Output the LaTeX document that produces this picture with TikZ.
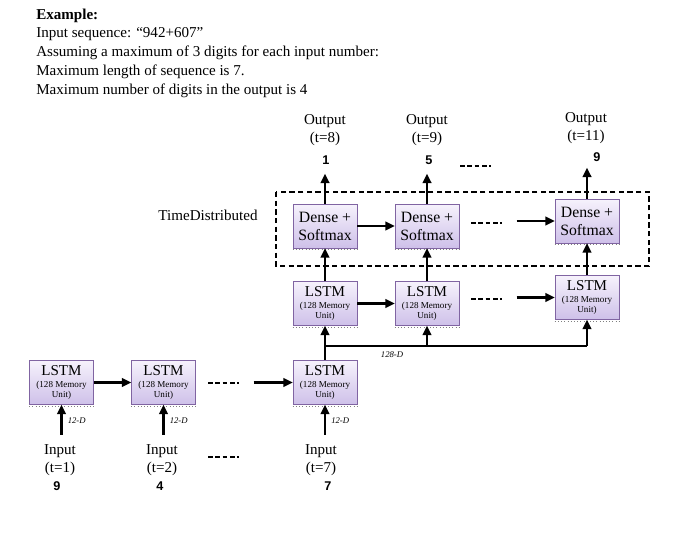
\documentclass[tikz,border=0pt]{standalone}
\usepackage{fontspec}
\setmainfont{Liberation Serif}
\newfontfamily\digitfont{Liberation Sans}
\definecolor{BoxTop}{RGB}{246,242,252}
\definecolor{BoxBottom}{RGB}{206,192,233}
\definecolor{BoxLine}{RGB}{128,100,162}
\usetikzlibrary{arrows.meta, positioning, calc}
\newcommand{\memfont}{\fontsize{6.8}{7.8}\selectfont}
\newcommand{\lstmtext}{LSTM\\[-4.5pt]\memfont (128 Memory\\[-5.8pt]\memfont Unit)}

\begin{document}
\begin{tikzpicture}[x=0.75pt, y=-0.75pt, font=\fontsize{11.3}{13.5}\selectfont,
	lstm/.style={rectangle, draw=BoxLine, top color=BoxTop, bottom color=BoxBottom,
		align=center, minimum width=48pt, minimum height=33pt, inner sep=0pt},
	dense/.style={lstm, font=\fontsize{11.8}{13.5}\selectfont},
	hdr/.style={anchor=base west, inner sep=0pt, font=\fontsize{11.3}{12}\selectfont},
	lbl/.style={align=center, inner sep=0pt},
	digit/.style={inner sep=0pt, font=\digitfont\bfseries\fontsize{9.5}{10}\selectfont},
	dim/.style={anchor=west, inner sep=0pt, font=\itshape\fontsize{6.5}{7}\selectfont},
	fl/.style={-{Triangle[length=7pt, width=6.5pt]}, line width=1.6pt},
	ln/.style={line width=1.6pt},
	dots/.style={line width=1.2pt, dash pattern=on 3.5pt off 2pt},
	frame/.style={line width=1.2pt, dash pattern=on 4pt off 2.5pt}]

	\useasboundingbox (0,0) rectangle (680,538);

	% header
	\node[hdr] (h1) at (36,20) {\textbf{Example:}};
	\node[hdr] (h2) at (36,38) {Input sequence: “942+607”};
	\node[hdr] (h3) at (36,57) {Assuming a maximum of 3 digits for each input number:};
	\node[hdr] (h4) at (36,76) {Maximum length of sequence is 7.};
	\node[hdr] (h5) at (36,95) {Maximum number of digits in the output is 4};

	% encoder
	\node[lstm] (b1) at (61.5,382.5) {\lstmtext};
	\node[lstm] (b2) at (163.5,382.5) {\lstmtext};
	\node[lstm] (b3) at (325,382.5) {\lstmtext};

	% decoder
	\node[lstm] (m1) at (325,303.5) {\lstmtext};
	\node[lstm] (m2) at (427,303.5) {\lstmtext};
	\node[lstm] (m3) at (587,297.5) {\lstmtext};

	\node[dense] (d1) at (325,226) {Dense +\\Softmax};
	\node[dense] (d2) at (427,226) {Dense +\\Softmax};
	\node[dense] (d3) at (587,221) {Dense +\\Softmax};

	\foreach \n in {b1,b2,b3,m1,m2,m3,d1,d2,d3}
		\draw[gray, dotted] ([yshift=-1pt]\n.south west) -- ([yshift=-1pt]\n.south east);

	\draw[frame] (276,192) rectangle (649,266);
	\node[lbl] (td) at (208,215) {TimeDistributed};

	% outputs
	\node[lbl] (o1) at (325,130) {Output\\(t=8)};
	\node[lbl] (o2) at (427,130) {Output\\(t=9)};
	\node[lbl] (o3) at (586,128) {Output\\(t=11)};
	\node[digit] (v1) at (326,160) {1};
	\node[digit] (v2) at (429,160) {5};
	\node[digit] (v3) at (597,157) {9};

	% inputs
	\node[lbl] (i1) at (60,460) {Input\\(t=1)};
	\node[lbl] (i2) at (162,460) {Input\\(t=2)};
	\node[lbl] (i3) at (321,460) {Input\\(t=7)};
	\node[digit] (n1) at (57,486.5) {9};
	\node[digit] (n2) at (160,486.5) {4};
	\node[digit] (n3) at (328,486.5) {7};

	% encoder arrows
	\draw[fl] (b1) -- (b2);
	\coordinate (e3) at ($(b3.west)+(-39,0)$);
	\draw[fl] (e3) -- (b3.west);
	\draw[dots] (208,383) -- (239,383);
	\draw[dots] (208,457) -- (239,457);
	\foreach \n in {b1,b2,b3} {
		\draw[fl] ($(\n.south)+(0,30)$) -- (\n.south);
		\node[dim] at ($(\n.south)+(6,16)$) {12-D};
	}

	% bus
	\coordinate (bus) at ($(b3.north)+(0,-14)$);
	\draw[fl] (b3.north) -- (m1.south);
	\draw[ln] (bus) -- (bus -| m3.south);
	\draw[fl] (bus -| m2.south) -- (m2.south);
	\draw[fl] (bus -| m3.south) -- (m3.south);
	\node[dim, anchor=center] at (392,355) {128-D};

	% decoder arrows
	\draw[fl] (m1) -- (m2);
	\coordinate (e6) at ($(m3.west)+(-38,0)$);
	\draw[fl] (e6) -- (m3.west);
	\draw[dots] (471,299) -- (502,299);
	\draw[fl] (d1) -- (d2);
	\coordinate (e9) at ($(d3.west)+(-38,0)$);
	\draw[fl] (e9) -- (d3.west);
	\draw[dots] (471,223) -- (502,223);
	\draw[dots] (460,166) -- (491,166);

	\draw[fl] (m1) -- (d1);
	\draw[fl] (m2) -- (d2);
	\draw[fl] (m3) -- (d3);
	\draw[fl] (d1.north) -- ++(0,-30);
	\draw[fl] (d2.north) -- ++(0,-30);
	\draw[fl] (d3.north) -- ++(0,-31);
\end{tikzpicture}
\end{document}
